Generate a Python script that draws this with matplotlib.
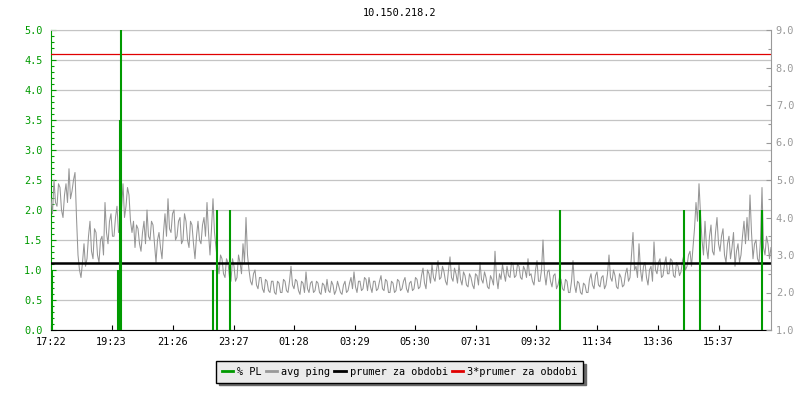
import numpy as np
import matplotlib
matplotlib.use("Agg")
import matplotlib.pyplot as plt
from matplotlib.lines import Line2D
from matplotlib.ticker import MultipleLocator, FormatStrFormatter

plt.rcParams['font.family'] = ['DejaVu Sans Mono']

title = "10.150.218.2"

# x tick labels (time of day), chart starts at 17:22 and covers 24 h
tick_labels = ["17:22", "19:23", "21:26", "23:27", "01:28", "03:29",
               "05:30", "07:31", "09:32", "11:34", "13:36", "15:37"]
span_min = 1440

# avg ping [ms], evenly sampled over the 24 h (right axis)
ping_ms = [
    4.5, 4.1, 5.0, 4.4, 4.3, 4.9, 4.8, 4.2, 4.0, 4.6, 4.9, 4.4, 5.3, 4.5, 4.7, 5.0, 5.2, 4.0,
    3.0, 2.6, 2.4, 2.8, 3.3, 2.7, 2.9, 3.5, 3.9, 3.1, 2.9, 3.7, 3.6, 3.0, 2.8, 3.4, 3.5, 3.0,
    4.4, 3.6, 3.3, 3.9, 4.1, 3.5, 3.5, 4.0, 4.3, 3.6, 3.7, 4.2, 4.9, 4.0, 4.3, 4.8, 4.6, 3.9,
    3.6, 3.9, 3.2, 3.8, 3.7, 3.3, 3.1, 3.6, 3.9, 3.3, 4.2, 3.5, 3.4, 3.9, 3.8, 3.3, 2.8, 3.4,
    3.6, 3.2, 2.9, 3.6,
    4.1, 3.5, 4.5, 3.7, 3.6, 4.1, 4.2, 3.4, 3.5, 3.9, 4.0, 3.3, 3.4, 4.1, 3.9, 3.4, 3.2, 3.9,
    3.8, 3.3, 2.9, 3.5, 3.9, 3.4, 3.3, 3.8, 4.0, 3.5, 4.4, 3.6, 3.0, 3.7, 4.5, 3.6, 3.2, 2.8,
    2.5, 3.0, 2.9, 2.5, 2.4, 2.9, 2.8, 2.4, 2.3, 2.9, 2.7, 2.3, 2.4, 3.0, 2.8, 2.5, 3.3, 2.8,
    4.0, 3.0,
    2.6, 2.3, 2.2, 2.5, 2.6, 2.2, 2.1, 2.4, 2.4, 2.1, 2.0, 2.35, 2.3, 2.05, 2.0, 2.3, 2.3, 2.0,
    1.95, 2.3, 2.25, 2.0, 2.0, 2.35, 2.3, 2.05, 2.0, 2.3,
    2.7, 2.2, 2.1, 2.35, 2.3, 2.05, 1.95, 2.3, 2.25, 2.0, 2.55, 2.1, 2.0, 2.25, 2.3, 2.0,
    2.05, 2.3, 2.25, 2.0, 1.95, 2.25, 2.2, 2.0, 2.35, 2.05, 2.0, 2.3, 2.2, 1.95, 2.05, 2.3,
    2.15, 2.0, 1.95, 2.2, 2.3, 2.0, 2.05, 2.25, 2.4, 2.1, 2.55, 2.15, 2.0, 2.3, 2.3, 2.05,
    2.1, 2.4, 2.35, 2.05, 2.4, 2.15, 2.0, 2.3, 2.3, 2.05, 2.1, 2.3, 2.45, 2.1, 2.05, 2.35,
    2.3, 2.0, 2.0, 2.3, 2.25, 2.0, 2.05, 2.35, 2.3, 2.05, 2.1, 2.3, 2.4, 2.1, 2.0, 2.25,
    2.3, 2.05, 2.1, 2.4, 2.35, 2.1, 2.15, 2.45,
    2.65, 2.25, 2.1, 2.6, 2.5, 2.25, 2.75, 2.4, 2.3, 2.6, 2.85, 2.35, 2.4, 2.7, 2.55, 2.3,
    2.2, 2.6, 2.95, 2.4, 2.3, 2.65, 2.5, 2.25, 2.75, 2.35, 2.2, 2.55, 2.45, 2.2, 2.15, 2.5,
    2.4, 2.2, 2.1, 2.5, 2.45, 2.2, 2.8, 2.35, 2.25, 2.55, 2.4, 2.15, 2.1, 2.45, 2.35, 2.2,
    3.1, 2.4, 2.1, 2.5, 2.35, 2.75, 2.5, 2.3, 2.7, 2.45, 2.4, 2.8, 2.75, 2.4, 2.45, 2.75,
    2.7, 2.4, 2.35, 2.7, 2.6, 2.4, 2.9, 2.45,
    2.5, 2.3, 2.2, 2.6, 2.85, 2.3, 2.3, 2.6, 3.4, 2.5, 2.2, 2.55, 2.6, 2.3, 2.15, 2.45,
    2.5, 2.1, 2.2, 2.4, 2.35, 2.1, 2.05, 2.35, 2.3, 2.0, 2.0, 2.3, 2.85, 2.2, 2.0, 2.3,
    2.25, 2.0, 1.95, 2.25, 2.2, 2.0, 2.0, 2.35, 2.5, 2.2, 2.1, 2.45, 2.55, 2.2, 2.15, 2.4,
    2.45, 2.1, 2.2, 2.5,
    3.0, 2.4, 2.3, 2.6, 2.45, 2.15, 2.1, 2.5, 2.4, 2.15, 2.2, 2.5, 2.65, 2.3, 2.4, 3.0,
    3.6, 2.6, 2.7, 2.4, 3.3, 2.6, 2.3, 2.7, 2.8, 2.4, 2.2, 2.6, 2.7, 2.3, 3.35, 2.6,
    2.5, 2.8, 2.9, 2.4, 2.45, 2.75, 2.95, 2.5, 2.5, 2.9, 2.85, 2.45, 2.4, 2.8, 2.7, 2.45,
    2.55, 2.85, 3.0, 2.6, 2.7, 3.0, 3.1, 2.7,
    3.2, 3.7, 4.4, 3.9, 4.9, 4.1, 3.4, 3.0, 3.9, 3.2, 2.9, 3.5, 3.8, 3.1, 3.0, 3.6,
    4.0, 3.3, 3.1, 3.5, 3.7, 3.0, 2.8, 3.3, 3.5, 2.9, 3.2, 3.6, 2.7, 3.1, 3.3, 2.8,
    3.0, 3.5, 3.9, 3.3, 4.0, 3.4, 4.6, 3.6, 2.9, 3.3, 3.4, 2.9, 2.8, 3.4, 4.8, 3.2,
    3.0, 3.5, 3.3, 2.9, 3.2,
]

# packet loss events [%] (left axis), minutes after 17:22
pl_min = [0, 2, 134, 136, 138, 140, 323, 332, 357, 1018, 1265, 1298, 1422]
pl_pct = [1.0, 1.0, 1.0, 1.0, 3.5, 5.0, 1.0, 2.0, 2.0, 2.0, 2.0, 2.0, 2.0]

prumer_ms = 2.79          # average for the period
prumer3_ms = 8.37         # 3 * average

GREEN = "#009a00"
GRAY = "#959595"
GRID = "#c4c4c4"


def label_minutes(labels):
    h0, m0 = map(int, labels[0].split(":"))
    out = []
    for lab in labels:
        h, m = map(int, lab.split(":"))
        out.append(((h * 60 + m) - (h0 * 60 + m0)) % 1440)
    return out


ping_t = np.linspace(0, span_min, len(ping_ms))

fig = plt.figure(figsize=(8, 4), dpi=100)
pos = [51 / 800, 70 / 400, 720 / 800, 300 / 400]
ax = fig.add_axes(pos)
ax2 = ax.twinx()
ax3 = fig.add_axes(pos, sharex=ax, sharey=ax)
ax3.axis('off')
ax3.patch.set_visible(False)

# left axis: packet loss
ax.set_xlim(0, span_min)
ax.set_ylim(0, 5)
ax.yaxis.set_major_locator(MultipleLocator(0.5))
ax.yaxis.set_minor_locator(MultipleLocator(0.1))
ax.yaxis.set_major_formatter(FormatStrFormatter('%.1f'))
ax.yaxis.grid(True, which='major', color=GRID, lw=0.9)
ax.set_axisbelow(True)
ax.tick_params(axis='y', which='major', direction='in', length=3.6, width=0.8,
               colors=GREEN, labelsize=7.4, pad=6)
ax.tick_params(axis='y', which='minor', direction='in', length=2.2, width=0.8,
               colors=GREEN)
ax.set_xticks(label_minutes(tick_labels))
ax.set_xticklabels(tick_labels)
ax.tick_params(axis='x', direction='in', length=3.6, width=0.8, colors='black',
               labelsize=7.4, pad=5)
ax.spines['left'].set_color(GREEN)
ax.spines['bottom'].set_color('black')
ax.spines['top'].set_color(GRID)
ax.spines['right'].set_visible(False)

# right axis: ping
ax2.set_ylim(1, 9)
ax2.yaxis.set_major_locator(MultipleLocator(1.0))
ax2.yaxis.set_minor_locator(MultipleLocator(0.5))
ax2.yaxis.set_major_formatter(FormatStrFormatter('%.1f'))
ax2.tick_params(axis='y', which='major', direction='in', length=3.4, width=0.8,
                colors="#999999", labelsize=7.4, pad=3.5)
ax2.tick_params(axis='y', which='minor', direction='in', length=2.2, width=0.8,
                colors="#999999")
for s in ['left', 'top', 'bottom']:
    ax2.spines[s].set_visible(False)
ax2.spines['right'].set_color("#999999")

ax2.plot(ping_t, ping_ms, color=GRAY, lw=0.75)
ax2.axhline(prumer_ms, color='black', lw=1.8)
ax2.axhline(prumer3_ms, color='#e00000', lw=0.9)

ax3.vlines(pl_min, 0, pl_pct, color=GREEN, lw=1.5)

fig.text(0.5, 1 - 13 / 400, title, ha='center', va='center', fontsize=7.4)

handles = [Line2D([], [], color=GREEN, lw=2),
           Line2D([], [], color="#999999", lw=2),
           Line2D([], [], color='black', lw=2),
           Line2D([], [], color='#e00000', lw=2)]
labels = ["% PL", "avg ping", "prumer za obdobi", "3*prumer za obdobi"]
leg = fig.legend(handles, labels, loc='center', bbox_to_anchor=(0.4995, 1 - 372 / 400),
                 ncol=4, fontsize=7.4, frameon=True, fancybox=False,
                 edgecolor='black', facecolor='#ebebeb', framealpha=1,
                 shadow={'color': '#6a6a6a', 'alpha': 1},
                 handlelength=1.1, handletextpad=0.4, columnspacing=0.4,
                 borderpad=0.55, borderaxespad=0)
leg.get_frame().set_linewidth(1.0)

fig.savefig("out.png", dpi=100)
